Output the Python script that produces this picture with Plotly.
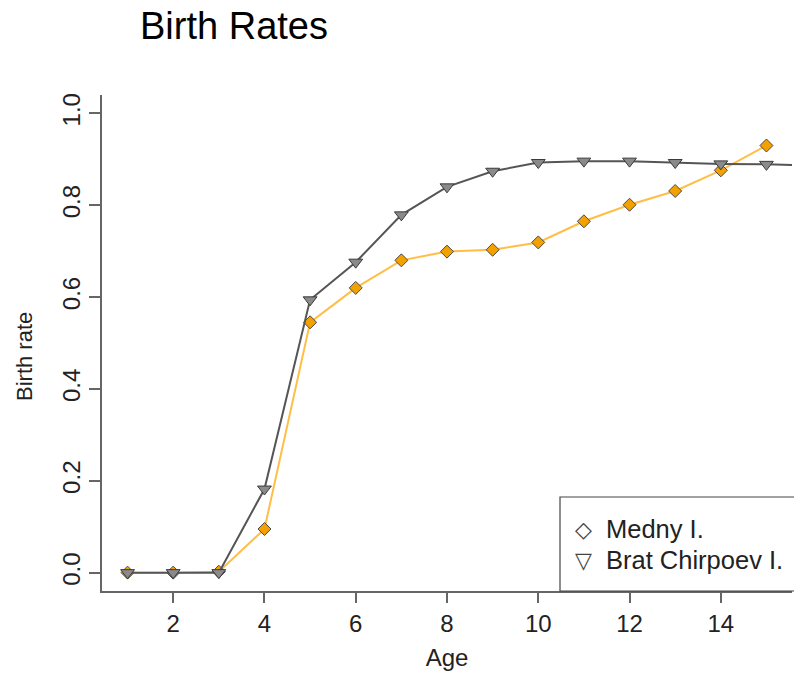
import plotly.graph_objects as go

# Data
ages_medny = [1, 2, 3, 4, 5, 6, 7, 8, 9, 10, 11, 12, 13, 14, 15]
medny = [0.0, 0.0, 0.002, 0.095, 0.545, 0.620, 0.680, 0.699, 0.703, 0.719, 0.765, 0.801, 0.831, 0.876, 0.930]
ages_brat = [1, 2, 3, 4, 5, 6, 7, 8, 9, 10, 11, 12, 13, 14, 15, 16]
brat = [0.0, 0.0, 0.0, 0.182, 0.594, 0.676, 0.779, 0.840, 0.874, 0.893, 0.896, 0.896, 0.893, 0.890, 0.889, 0.886]
x_ticks = [2, 4, 6, 8, 10, 12, 14]
y_ticks = [0.0, 0.2, 0.4, 0.6, 0.8, 1.0]
y_tick_labels = ["0.0", "0.2", "0.4", "0.6", "0.8", "1.0"]
legend_names = ["Medny I.", "Brat Chirpoev I."]
legend_symbols = ["◇", "▽"]

W, H = 794, 674
L, R, T, B = 102, 2, 95, 83
PW, PH = W - L - R, H - T - B


def px_x(p):
    return (p - L) / PW


def px_y(p):
    return (H - B - p) / PH


fig = go.Figure()

fig.add_trace(go.Scatter(
    x=ages_medny, y=medny, mode="lines+markers", name=legend_names[0], showlegend=False,
    line=dict(color="#FFBE45", width=2),
    marker=dict(symbol="diamond", size=10, color="#F2A100",
                line=dict(color="#4a4a4a", width=1)),
))
fig.add_trace(go.Scatter(
    x=ages_brat, y=brat, mode="lines+markers", name=legend_names[1], showlegend=False,
    line=dict(color="#555555", width=2),
    marker=dict(symbol="triangle-down", size=12, color="#8a8a8a",
                line=dict(color="#3a3a3a", width=1)),
))

font_family = "Liberation Sans, Arial, sans-serif"

annotations = [dict(text="Birth rate", xref="paper", yref="paper",
                    x=px_x(24), y=px_y(357), xanchor="center", yanchor="middle",
                    textangle=-90, showarrow=False,
                    font=dict(size=22, color="#222222"))]
for i, (sym, name) in enumerate(zip(legend_symbols, legend_names)):
    row_y = 529 + i * 31
    annotations.append(dict(text=sym, xref="paper", yref="paper", x=px_x(583), y=px_y(row_y),
                            xanchor="center", yanchor="middle", showarrow=False,
                            font=dict(size=22, color="#444444", family="DejaVu Sans")))
    annotations.append(dict(text=name, xref="paper", yref="paper", x=px_x(604), y=px_y(row_y),
                            xanchor="left", yanchor="middle", showarrow=False,
                            font=dict(size=25.5, color="#222222", family=font_family)))

fig.update_layout(
    width=W, height=H,
    margin=dict(l=L, r=R, t=T, b=B),
    paper_bgcolor="white", plot_bgcolor="white",
    showlegend=False,
    font=dict(family=font_family, color="#222222"),
    title=dict(text="Birth Rates", x=140 / W, xanchor="left", xref="container",
               y=1 - 26 / H, yanchor="middle", yref="container",
               font=dict(size=38, color="#000000", family=font_family)),
    xaxis=dict(range=[0.44, 15.56], tickvals=x_ticks, ticks="outside", ticklen=10,
               tickcolor="#666666", tickwidth=1.5, showline=True, linecolor="#666666",
               linewidth=1.5, showgrid=False, zeroline=False,
               tickfont=dict(size=24, color="#222222"),
               title=dict(text="Age", font=dict(size=24, color="#222222"), standoff=14)),
    yaxis=dict(range=[-0.04, 1.04], tickvals=y_ticks, ticktext=y_tick_labels,
               ticks="outside", ticklen=11, tickcolor="#666666", tickwidth=1.5,
               showline=True, linecolor="#666666", linewidth=1.5, showgrid=False,
               zeroline=False, tickangle=-90, tickfont=dict(size=24, color="#222222")),
    shapes=[dict(type="rect", xref="paper", yref="paper",
                 x0=px_x(560), x1=1.05, y0=0, y1=px_y(497),
                 line=dict(color="#444444", width=1.2), fillcolor="rgba(0,0,0,0)")],
    annotations=annotations,
)

fig.write_html("out.html")
